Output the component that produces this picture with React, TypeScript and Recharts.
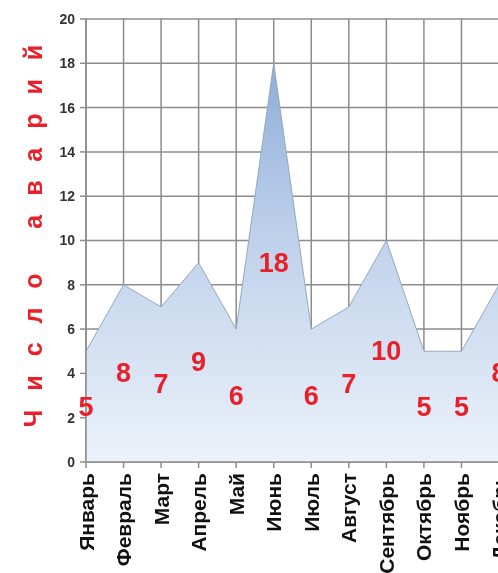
import React from 'react';
import { AreaChart, Area, XAxis, YAxis, CartesianGrid, LabelList, Label } from 'recharts';

const months = ['Январь', 'Февраль', 'Март', 'Апрель', 'Май', 'Июнь', 'Июль', 'Август', 'Сентябрь', 'Октябрь', 'Ноябрь', 'Декабрь'];
const accidents = [5, 8, 7, 9, 6, 18, 6, 7, 10, 5, 5, 8];
const yTicks = [0, 2, 4, 6, 8, 10, 12, 14, 16, 18, 20];

const data = months.map((month, i) => ({ month, accidents: accidents[i] }));

const W = 511;
const H = 565;
const MARGIN = { top: 11, right: 20, bottom: 0, left: 0 };
const X_AXIS_H = 111;
const PLOT_BOTTOM = H - MARGIN.bottom - X_AXIS_H;
const FONT = '"Liberation Sans", Arial, sans-serif';
const GRID = '#8c8c8c';

const MonthTick = (props: any) => {
  const { x, y, payload } = props;
  return (
    <text
      x={x}
      y={y}
      transform={`rotate(-90, ${x}, ${y})`}
      textAnchor="end"
      dominantBaseline="central"
      fontFamily={FONT}
      fontWeight="bold"
      fontSize={21}
      fill="#111"
    >
      {payload.value}
    </text>
  );
};

// label sits halfway between the point and the baseline, like Excel's "center"
const MidLabel = (props: any) => {
  const { x, y, value } = props;
  const cy = (y + PLOT_BOTTOM) / 2;
  return (
    <text
      x={x}
      y={cy}
      textAnchor="middle"
      dominantBaseline="central"
      fontFamily={FONT}
      fontWeight="bold"
      fontSize={27}
      fill="#e8202a"
    >
      {value}
    </text>
  );
};

const AxisTitle = (props: any) => {
  const { viewBox } = props;
  const cx = 25;
  const cy = viewBox.y + viewBox.height / 2 - 14;
  return (
    <text
      x={cx}
      y={cy}
      transform={`rotate(-90, ${cx}, ${cy})`}
      textAnchor="middle"
      dominantBaseline="central"
      fontFamily={FONT}
      fontWeight="bold"
      fontSize={25}
      letterSpacing={19}
      fill="#e8202a"
    >
      Число аварий
    </text>
  );
};

export default function App() {
  return (
    <div style={{ position: 'fixed', top: 8, left: 8, width: 490, height: H, overflow: 'hidden' }}>
      <AreaChart width={W} height={H} data={data} margin={MARGIN}>
        <defs>
          <linearGradient id="areaFill" x1="0" y1="0" x2="0" y2="1">
            <stop offset="0%" stopColor="#8fadd9" />
            <stop offset="45%" stopColor="#c0d2eb" />
            <stop offset="100%" stopColor="#ecf2fa" />
          </linearGradient>
        </defs>
        <CartesianGrid stroke={GRID} strokeWidth={1.5} />
        <XAxis
          dataKey="month"
          interval={0}
          height={X_AXIS_H}
          tick={<MonthTick />}
          tickSize={6}
          tickMargin={5}
          stroke={GRID}
          tickLine={{ stroke: GRID, strokeWidth: 1.5 }}
          axisLine={{ stroke: GRID, strokeWidth: 1.5 }}
        />
        <YAxis
          domain={[0, 20]}
          ticks={yTicks}
          interval={0}
          width={78}
          tickSize={6}
          tickMargin={5}
          tick={{ fill: '#333', fontSize: 14, fontWeight: 'bold', fontFamily: FONT }}
          tickLine={{ stroke: GRID, strokeWidth: 1.5 }}
          axisLine={{ stroke: GRID, strokeWidth: 1.5 }}
        >
          <Label content={<AxisTitle />} />
        </YAxis>
        <Area
          type="linear"
          dataKey="accidents"
          stroke="#95a7c0"
          strokeWidth={1}
          fill="url(#areaFill)"
          fillOpacity={1}
          dot={false}
          activeDot={false}
          isAnimationActive={false}
        >
          <LabelList dataKey="accidents" content={<MidLabel />} />
        </Area>
      </AreaChart>
    </div>
  );
}
